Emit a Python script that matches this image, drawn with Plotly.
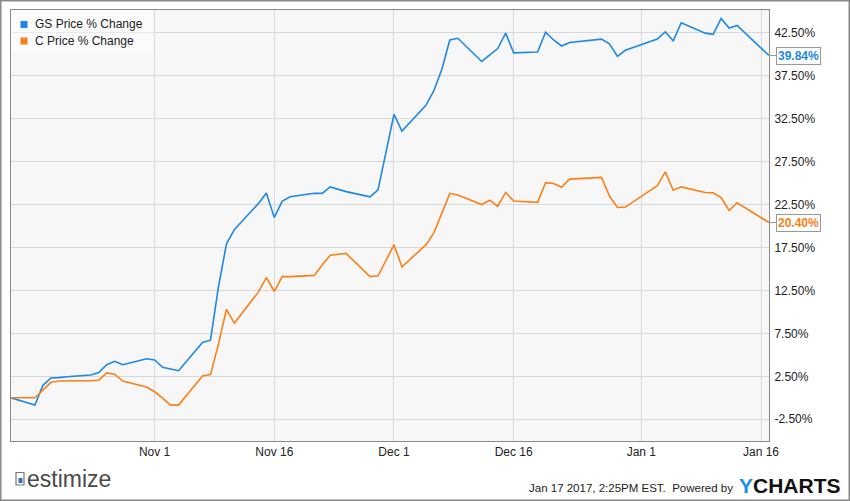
import plotly.graph_objects as go

dates = ["2016-10-14","2016-10-17","2016-10-18","2016-10-19","2016-10-20","2016-10-21","2016-10-24","2016-10-25","2016-10-26","2016-10-27","2016-10-28","2016-10-31",
         "2016-11-01","2016-11-02","2016-11-03","2016-11-04","2016-11-07","2016-11-08","2016-11-09","2016-11-10","2016-11-11","2016-11-14","2016-11-15","2016-11-16","2016-11-17","2016-11-18","2016-11-21","2016-11-22","2016-11-23","2016-11-25","2016-11-28","2016-11-29","2016-11-30",
         "2016-12-01","2016-12-02","2016-12-05","2016-12-06","2016-12-07","2016-12-08","2016-12-09","2016-12-12","2016-12-13","2016-12-14","2016-12-15","2016-12-16","2016-12-19","2016-12-20","2016-12-21","2016-12-22","2016-12-23","2016-12-27","2016-12-28","2016-12-29","2016-12-30",
         "2017-01-03","2017-01-04","2017-01-05","2017-01-06","2017-01-09","2017-01-10","2017-01-11","2017-01-12","2017-01-13","2017-01-17"]

gs_change = [0, -0.85, 1.45, 2.3, 2.35, 2.45, 2.65, 2.95, 3.85, 4.25, 3.85, 4.55,
             4.4, 3.55, 3.35, 3.15, 6.45, 6.7, 12.9, 17.9, 19.6, 22.6, 23.85, 21.0, 22.9, 23.4, 23.8, 23.8, 24.55, 24.0, 23.4, 24.2, 28.6,
             33.0, 31.05, 34.05, 35.75, 38.25, 41.65, 41.85, 39.15, 39.95, 40.65, 42.45, 40.15, 40.25, 42.55, 41.65, 40.95, 41.35, 41.75, 41.2, 39.75, 40.45,
             41.75, 42.6, 41.55, 43.65, 42.45, 42.3, 44.15, 43.05, 43.35, 39.84]

c_change = [0, 0, 0.9, 1.8, 1.95, 1.95, 2.0, 2.05, 2.9, 2.75, 1.95, 1.25,
            0.7, -0.05, -0.85, -0.85, 2.55, 2.7, 6.25, 10.3, 8.7, 12.3, 14.0, 12.4, 14.1, 14.1, 14.25, 15.45, 16.6, 16.8, 14.1, 14.2, 16.0,
            17.8, 15.25, 17.8, 19.2, 21.45, 23.8, 23.6, 22.5, 23.0, 22.3, 23.9, 22.9, 22.75, 25.05, 24.95, 24.5, 25.45, 25.65, 23.5, 22.15, 22.2,
            24.7, 26.3, 24.15, 24.55, 23.9, 23.85, 23.3, 21.8, 22.7, 20.40]

series_names = ["GS Price % Change", "C Price % Change"]
series_colors = ["#1e88e5", "#fb8017"]

x_tick_vals = ["2016-11-01", "2016-11-16", "2016-12-01", "2016-12-16", "2017-01-01", "2017-01-16"]
x_tick_text = ["Nov 1", "Nov 16", "Dec 1", "Dec 16", "Jan 1", "Jan 16"]
y_tick_vals = [-2.5, 2.5, 7.5, 12.5, 17.5, 22.5, 27.5, 32.5, 37.5, 42.5]
y_tick_text = ["%.2f%%" % v for v in y_tick_vals]

W, H = 850, 501
ML, MR, MT, MB = 11, 81, 10, 60
PW, PH = W - ML - MR, H - MT - MB
FONT = "Arial, Liberation Sans, sans-serif"


def px(xp, yp):
    return (xp - ML) / PW, (H - MB - yp) / PH


fig = go.Figure()
for name, vals, col in zip(series_names, [gs_change, c_change], series_colors):
    fig.add_trace(go.Scatter(x=dates, y=vals, mode="lines", name=name,
                             line=dict(color=col, width=1.6), showlegend=False))

shapes = []
annotations = []

# outer frame
x0, y0 = px(0.75, 0.75)
x1, y1 = px(849.25, 500.25)
shapes.append(dict(type="rect", xref="paper", yref="paper", x0=x0, y0=y1, x1=x1, y1=y0,
                   line=dict(color="#888888", width=1.5), layer="below"))

# legend box
lx0, ly0 = px(11, 10)
lx1, ly1 = px(153, 52)
shapes.append(dict(type="rect", xref="paper", yref="paper", x0=lx0, y0=ly1, x1=lx1, y1=ly0,
                   fillcolor="rgba(255,255,255,0.45)", line=dict(width=0), layer="above"))
for i, (name, col) in enumerate(zip(series_names, series_colors)):
    cy = 24.5 + i * 16.5
    sx0, sy0 = px(20.5, cy - 3.5)
    sx1, sy1 = px(27.5, cy + 3.5)
    shapes.append(dict(type="rect", xref="paper", yref="paper", x0=sx0, y0=sy1, x1=sx1, y1=sy0,
                       fillcolor=col, line=dict(width=0), layer="above"))
    tx, ty = px(32.5, cy)
    annotations.append(dict(xref="paper", yref="paper", x=tx, y=ty, text=name, showarrow=False,
                            xanchor="left", yanchor="middle", font=dict(family=FONT, size=12, color="#222")))

# end value labels
for vals, col in zip([gs_change, c_change], series_colors):
    annotations.append(dict(x=dates[-1], y=vals[-1], xref="x", yref="y",
                            text="<b>%.2f%%</b>" % vals[-1], showarrow=True, arrowhead=0,
                            arrowwidth=1, arrowcolor="#999", ax=29, ay=0, standoff=0,
                            bgcolor="white", bordercolor="#999", borderwidth=1, borderpad=1,
                            font=dict(family=FONT, size=12, color=col)))

# estimize logo
ix0, iy0 = px(16, 472.5)
ix1, iy1 = px(24, 485)
shapes.append(dict(type="rect", xref="paper", yref="paper", x0=ix0, y0=iy1, x1=ix1, y1=iy0,
                   line=dict(color="#777", width=1.2), fillcolor="white"))
bx0, by0 = px(18.5, 478)
bx1, by1 = px(22.5, 483)
shapes.append(dict(type="rect", xref="paper", yref="paper", x0=bx0, y0=by1, x1=bx1, y1=by0,
                   line=dict(width=0), fillcolor="#3a6fc4"))
ex, ey = px(24.5, 479)
annotations.append(dict(xref="paper", yref="paper", x=ex, y=ey, text="estimize", showarrow=False,
                        xanchor="left", yanchor="middle", font=dict(family=FONT, size=23, color="#4a4a4a")))

# footer
fx, fy = px(735, 488.5)
annotations.append(dict(xref="paper", yref="paper", x=fx, y=fy,
                        text="Jan 17 2017, 2:25PM EST.  Powered by", showarrow=False,
                        xanchor="right", yanchor="middle", font=dict(family=FONT, size=11.5, color="#222")))
yx, yy = px(737, 486)
annotations.append(dict(xref="paper", yref="paper", x=yx, y=yy,
                        text="<b><span style='color:#1a8fe3'>Y</span>CHARTS</b>", showarrow=False,
                        xanchor="left", yanchor="middle", font=dict(family=FONT, size=21, color="#111")))

fig.update_layout(
    width=W, height=H,
    margin=dict(l=ML, r=MR, t=MT, b=MB, pad=0),
    paper_bgcolor="white", plot_bgcolor="#f7f7f7",
    showlegend=False,
    font=dict(family=FONT, size=12, color="#222"),
    shapes=shapes, annotations=annotations,
    xaxis=dict(type="date", range=["2016-10-14", "2017-01-17"], tickvals=x_tick_vals, ticktext=x_tick_text,
               showgrid=True, gridcolor="#d9d9d9", gridwidth=1, ticks="", zeroline=False,
               showline=True, mirror=True, linecolor="#8a8a8a", linewidth=1,
               tickfont=dict(family=FONT, size=12, color="#222")),
    yaxis=dict(range=[-5.03, 45.14], side="right", tickvals=y_tick_vals, ticktext=y_tick_text,
               showgrid=True, gridcolor="#d9d9d9", gridwidth=1, ticks="", zeroline=False,
               showline=True, mirror=True, linecolor="#8a8a8a", linewidth=1,
               ticklabelstandoff=2,
               tickfont=dict(family=FONT, size=12, color="#222")),
)

fig.write_html("out.html", config={"displayModeBar": False},
               post_script="document.body.style.margin='0px';document.body.style.overflow='hidden';")
